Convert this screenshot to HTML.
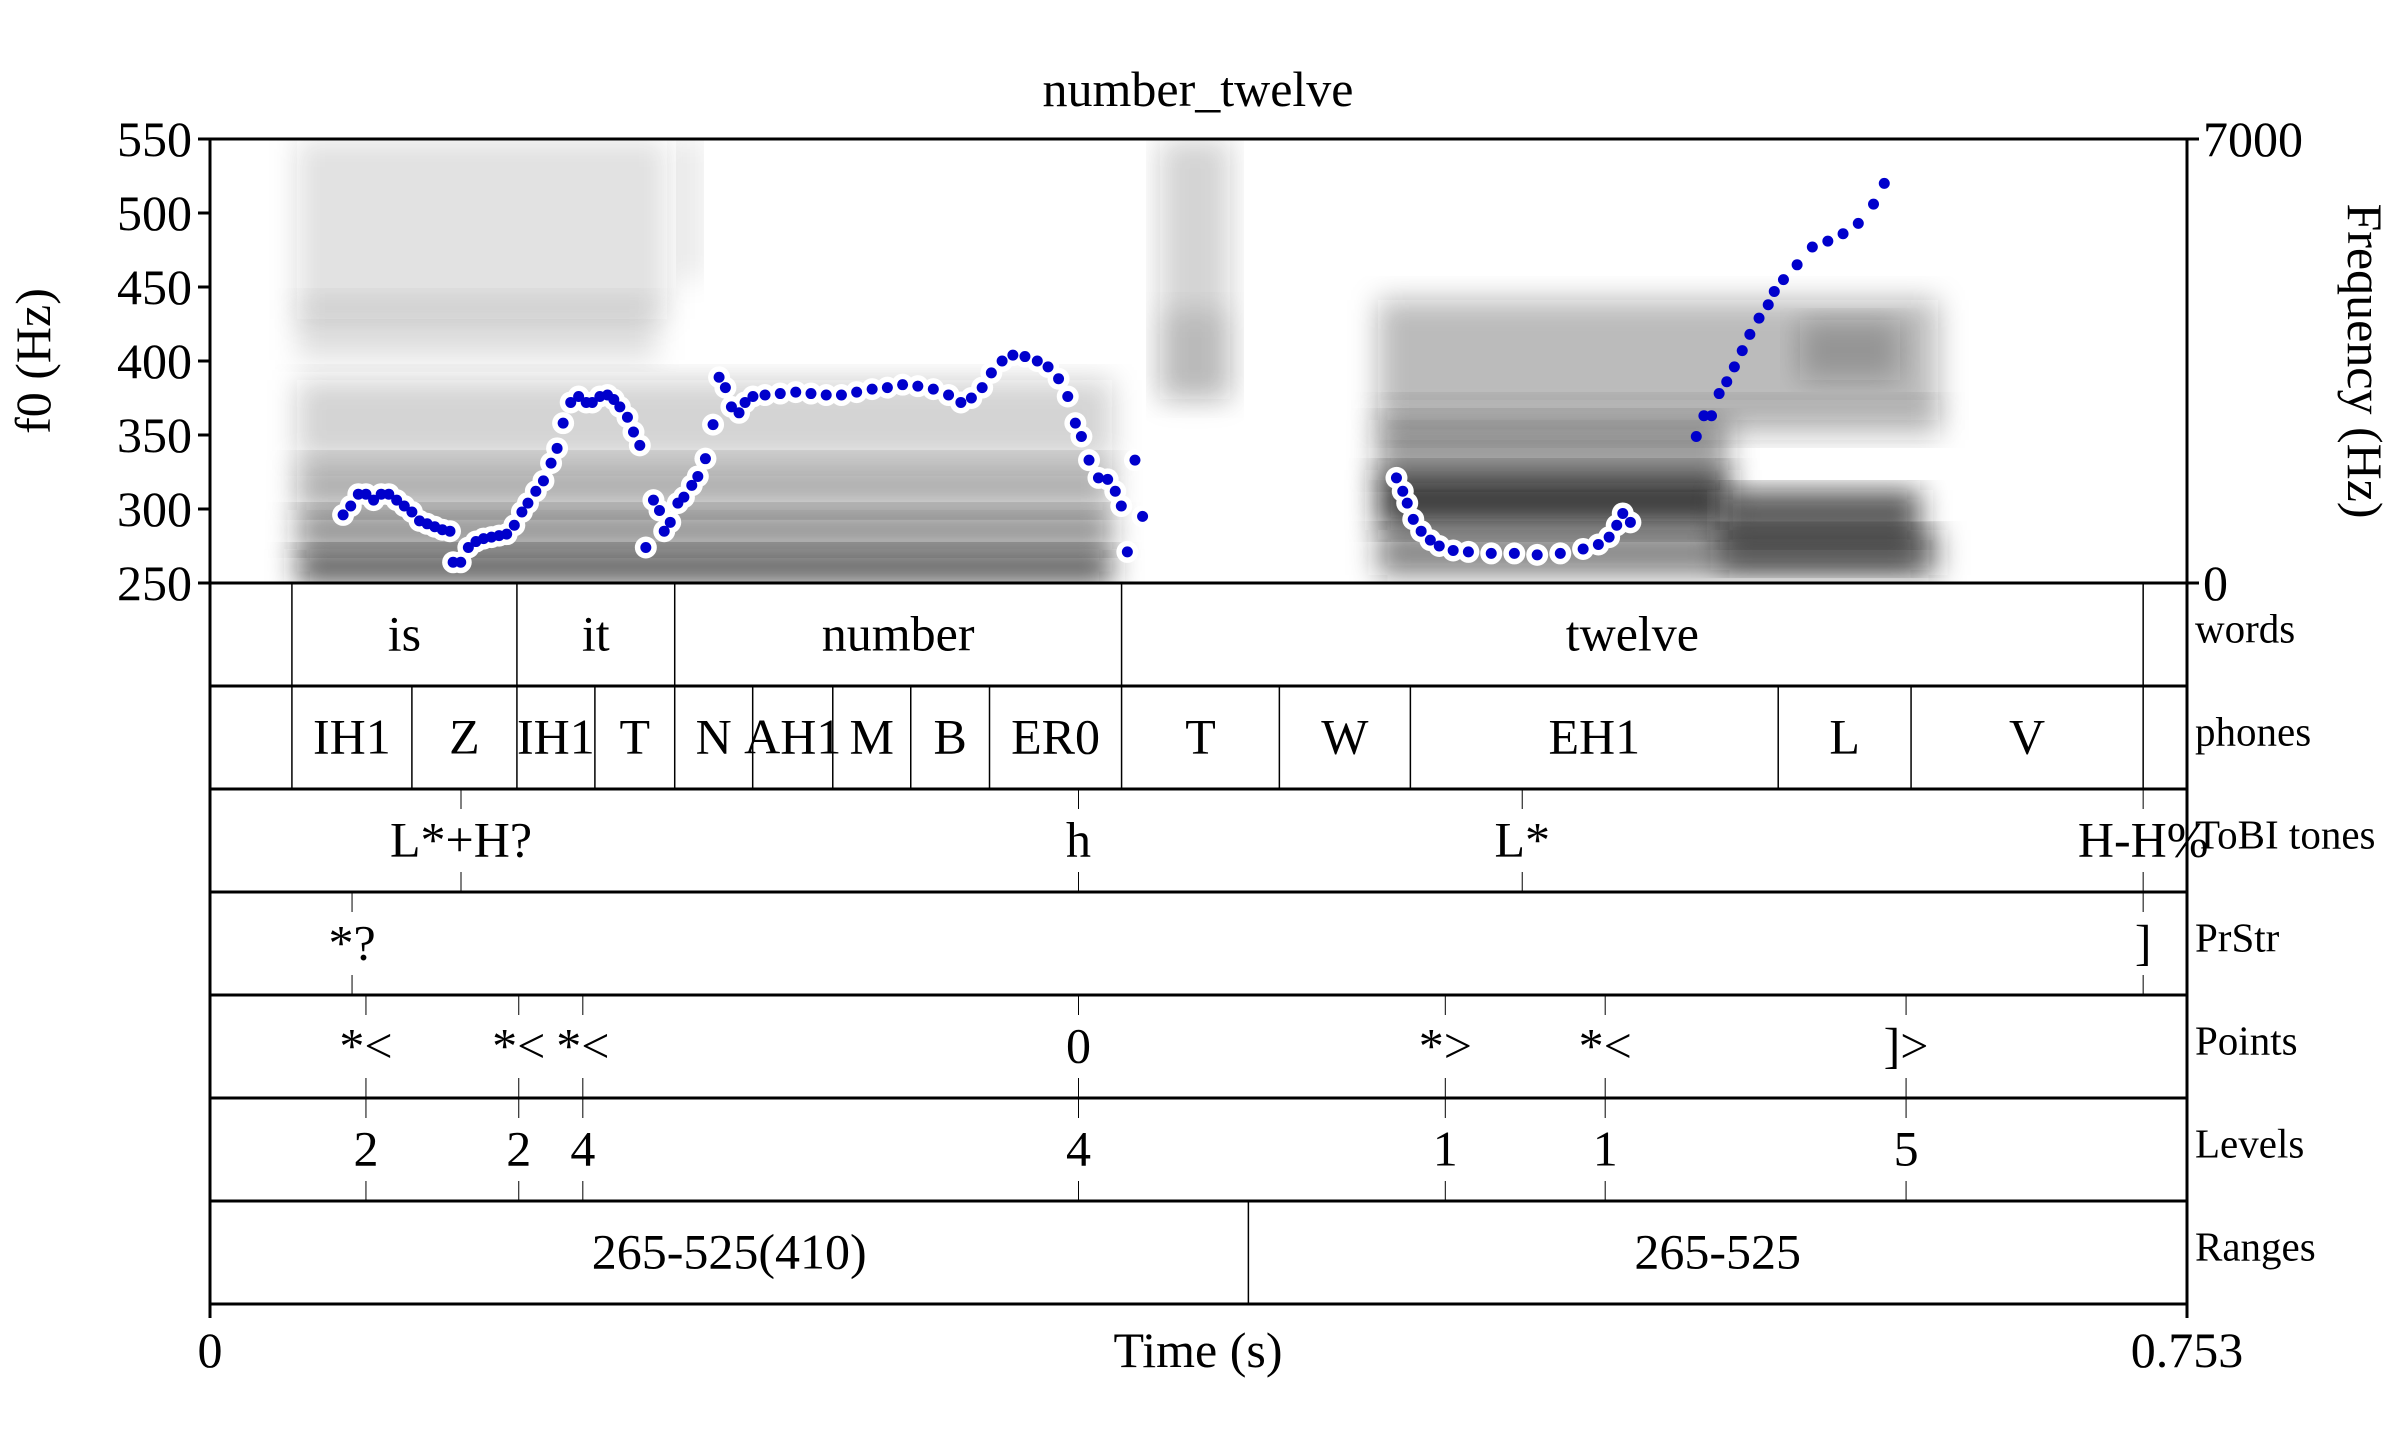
<!DOCTYPE html>
<html><head><meta charset="utf-8"><style>
html,body{margin:0;padding:0;background:#fff;}
svg{display:block;font-family:"Liberation Serif",serif;}
</style></head><body>
<svg id="chart" width="2400" height="1445" viewBox="0 0 2400 1445" xmlns="http://www.w3.org/2000/svg">
<defs>
<filter id="blur" x="-20%" y="-20%" width="140%" height="140%"><feGaussianBlur stdDeviation="14"/></filter>
<clipPath id="specClip"><rect x="210" y="139" width="1977" height="444"/></clipPath>
</defs>
<g id="spectrogram" clip-path="url(#specClip)"></g>
<g id="pitch"></g>
<g id="axes"></g>
<g id="tiers"></g>
<text x="1198" y="106" font-size="50" text-anchor="middle">number_twelve</text>
<text transform="translate(50,361) rotate(-90)" font-size="50" text-anchor="middle">f0 (Hz)</text>
<text transform="translate(2348,361) rotate(90)" font-size="50" text-anchor="middle">Frequency (Hz)</text>
<text x="1198" y="1367" font-size="50" text-anchor="middle">Time (s)</text>
</svg>
<script>
const NS='http://www.w3.org/2000/svg';
// ---- data ----
const tMax=0.753;
const f0Ticks=[550,500,450,400,350,300,250];
const freqTicks=['7000','0'];
const timeTicks=[0,0.753];
const timeTickLabels=['0','0.753'];
const seg1T=[.0507,.0536,.0565,.0594,.0623,.0652,.0681,.0711,.0740,.0769,.0798,.0827,.0856,.0885,.0914,.0926,.0955,.0984,.1013,.1042,.1072,.1101,.1130,.1159,.1188,.1211,.1241,.1270,.1299,.1322,.1345,.1374,.1404,.1433,.1456,.1485,.1514,.1538,.1561,.1590,.1613,.1637];
const seg1F=[296,302,310,310,306,310,310,306,302,298,292,290,288,286,285,264,264,274,278,280,281,282,283,289,298,304,312,319,331,341,358,372,376,372,372,376,377,374,369,362,352,343];
const seg2T=[.1660,.1689,.1712,.1730,.1753,.1782,.1805,.1835,.1858,.1887,.1916,.1939,.1963,.1986,.2015,.2038,.2068,.2114,.2172,.2231,.2289,.2347,.2405,.2463,.2522,.2580,.2638,.2696,.2755,.2813,.2860,.2900,.2941,.2976,.3017,.3058,.3104,.3151,.3192,.3232,.3267,.3296,.3319,.3348,.3384,.3419,.3448,.3471,.3494,.3523,.3552];
const seg2F=[274,306,299,285,291,304,308,316,322,334,357,389,382,369,365,372,376,377,378,379,378,377,377,379,381,382,384,383,381,377,372,375,382,392,400,404,403,400,396,388,376,358,349,333,321,320,312,302,271,333,295];
const seg3T=[.4519,.4543,.4560,.4583,.4613,.4648,.4682,.4735,.4793,.4880,.4968,.5055,.5143,.5230,.5288,.5329,.5358,.5381,.5410];
const seg3F=[321,312,304,293,285,279,275,272,271,270,270,269,270,273,276,281,289,297,291];
const seg4T=[.5661,.5690,.5719,.5748,.5777,.5806,.5836,.5865,.5900,.5935,.5958,.5993,.6045,.6103,.6162,.6220,.6278,.6336,.6377];
const seg4F=[349,363,363,378,386,396,407,418,429,438,447,455,465,477,481,486,493,506,520];
const wordBounds=[.0312,.1169,.1770,.3472,.7363];
const wordLabels=['is','it','number','twelve'];
const phoneBounds=[.0312,.0769,.1169,.1466,.1770,.2067,.2372,.2669,.2969,.3472,.4073,.4572,.5973,.6479,.7363];
const phoneLabels=['IH1','Z','IH1','T','N','AH1','M','B','ER0','T','W','EH1','L','V'];
const toneTimes=[.0956,.3308,.4998,.7363];
const toneLabels=['L*+H?','h','L*','H-H%'];
const prstrTimes=[.0541,.7363];
const prstrLabels=['*?',']'];
const pointTimes=[.0594,.1176,.1420,.3308,.4705,.5314,.6460];
const pointLabels=['*<','*<','*<','0','*>','*<',']>'];
const levelTimes=[.0594,.1176,.1420,.3308,.4705,.5314,.6460];
const levelLabels=['2','2','4','4','1','1','5'];
const rangeBounds=[.3955];
const rangeLabels=['265-525(410)','265-525'];
// ---- scales ----
const L=210,R=2187,T=139,B=583;
const X=t=>L+t/tMax*(R-L);
const Y=f=>B-(f-250)/300*(B-T);
function mk(tag,attrs,parent){const e=document.createElementNS(NS,tag);for(const k in attrs)e.setAttribute(k,attrs[k]);parent.appendChild(e);return e;}
// ---- spectrogram (decorative) ----
const sp=document.getElementById('spectrogram');
const blobs=[
[297,549,815,34,.75],[297,510,815,40,.5],[297,460,815,50,.35],[297,380,815,80,.2],[297,300,360,60,.12],
[297,139,370,180,.14],[680,139,20,140,.12],[1160,139,70,260,.2],[1160,310,70,90,.12],
[1378,470,350,60,.85],[1378,420,350,60,.45],[1378,300,560,120,.3],[1378,530,560,45,.55],
[1720,490,200,50,.75],[1720,530,200,40,.55],[1800,320,100,60,.25],[1380,400,560,40,.18]];
blobs.forEach(b=>{const r=mk('rect',{x:b[0],y:b[1],width:b[2],height:b[3],fill:'#222','fill-opacity':b[4],filter:'url(#blur)'},sp);

});
// ---- pitch ----
const pg=document.getElementById('pitch');
function drawSeg(ts,fs,halo){
 if(halo){ts.forEach((t,i)=>{const c=mk('circle',{cx:X(t),cy:Y(fs[i]),r:11,fill:'#fff'},pg);
 
 });}
 ts.forEach((t,i)=>{const c=mk('circle',{cx:X(t),cy:Y(fs[i]),r:5.5,fill:'#0000cc'},pg);
 
 });
}
drawSeg(seg1T,seg1F,true);drawSeg(seg2T,seg2F,true);drawSeg(seg3T,seg3F,true);drawSeg(seg4T,seg4F,false);
// ---- axes ----
const ax=document.getElementById('axes');
mk('line',{x1:L,y1:T,x2:R,y2:T,stroke:'#000','stroke-width':3},ax);
mk('line',{x1:L,y1:T,x2:L,y2:1304,stroke:'#000','stroke-width':3},ax);
mk('line',{x1:R,y1:T,x2:R,y2:1304,stroke:'#000','stroke-width':3},ax);
f0Ticks.forEach(f=>{mk('line',{x1:L-12,y1:Y(f),x2:L,y2:Y(f),stroke:'#000','stroke-width':3},ax);
 const t=mk('text',{x:L-18,y:Y(f)+17,'font-size':50,'text-anchor':'end'},ax);t.textContent=f;
 
 });
[[T,freqTicks[0]],[B,freqTicks[1]]].forEach(p=>{mk('line',{x1:R,y1:p[0],x2:R+12,y2:p[0],stroke:'#000','stroke-width':3},ax);
 const t=mk('text',{x:R+16,y:p[0]+17,'font-size':50},ax);t.textContent=p[1];
 
 });
timeTicks.forEach((v,i)=>{mk('line',{x1:X(v),y1:1304,x2:X(v),y2:1318,stroke:'#000','stroke-width':3},ax);
 const t=mk('text',{x:X(v),y:1367,'font-size':50,'text-anchor':'middle'},ax);t.textContent=timeTickLabels[i];
 
 });
// ---- tiers ----
const tg=document.getElementById('tiers');
const tierTops=[583,686,789,892,995,1098,1201,1304];
const tierNames=['words','phones','ToBI tones','PrStr','Points','Levels','Ranges'];
tierTops.forEach(y=>mk('line',{x1:L,y1:y,x2:R,y2:y,stroke:'#000','stroke-width':3},tg));
tierNames.forEach((n,i)=>{const t=mk('text',{x:R+8,y:(tierTops[i]+tierTops[i+1])/2+8,'font-size':41},tg);t.textContent=n;
 
 });
function intervalTier(i,bounds,labels,start){
 const y0=tierTops[i],y1=tierTops[i+1],cy=(y0+y1)/2+16;
 bounds.forEach(b=>mk('line',{x1:X(b),y1:y0,x2:X(b),y2:y1,stroke:'#000','stroke-width':1.5},tg));
 const edges=start?[0,...bounds,tMax]:bounds;
 labels.forEach((lab,k)=>{const t=mk('text',{x:(X(edges[k])+X(edges[k+1]))/2,y:cy,'font-size':50,'text-anchor':'middle'},tg);t.textContent=lab;
 
 });
}
function pointTier(i,times,labels){
 const y0=tierTops[i],y1=tierTops[i+1],cy=(y0+y1)/2+16;
 times.forEach((tm,k)=>{mk('line',{x1:X(tm),y1:y0,x2:X(tm),y2:y0+20,stroke:'#000','stroke-width':1},tg);
 mk('line',{x1:X(tm),y1:y1-20,x2:X(tm),y2:y1,stroke:'#000','stroke-width':1},tg);
 const t=mk('text',{x:X(tm),y:cy,'font-size':50,'text-anchor':'middle'},tg);t.textContent=labels[k];
 
 });
}
intervalTier(0,wordBounds,wordLabels,false);
intervalTier(1,phoneBounds,phoneLabels,false);
pointTier(2,toneTimes,toneLabels);
pointTier(3,prstrTimes,prstrLabels);
pointTier(4,pointTimes,pointLabels);
pointTier(5,levelTimes,levelLabels);
intervalTier(6,rangeBounds,rangeLabels,true);
</script>
</body></html>
